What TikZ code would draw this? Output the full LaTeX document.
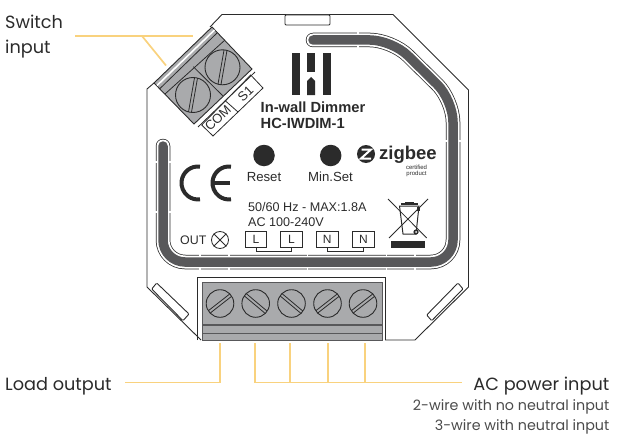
\documentclass[tikz,border=0pt]{standalone}
\usepackage{fontspec}
\setmainfont{Liberation Sans}
\newfontfamily\lablefont{Poppins}
\definecolor{wire}{HTML}{F9D27E}
\definecolor{ink}{HTML}{2B2B2B}
\definecolor{blockgrey}{HTML}{A9AAAC}
\definecolor{chan}{HTML}{58585A}
\newcommand{\fs}[1]{\fontsize{#1}{#1}\selectfont}
\tikzset{
  x=1pt,y=-1pt,
  wireline/.style={draw=wire,line width=1.7pt},
  bodyline/.style={draw=ink,line width=0.9pt,line join=miter},
  thin line/.style={draw=ink,line width=0.8pt},
  screwline/.style={draw=ink,line width=0.9pt},
  lab/.style={inner sep=0pt,text=ink},
  box/.style={draw=ink,line width=0.8pt,minimum width=21.5pt,minimum height=16pt,inner sep=0pt,text=ink,font=\fs{12}},
  dot/.style={circle,fill=ink,minimum size=21.5pt,inner sep=0pt},
  notch/.style={draw=white,line width=1.4pt}
}
\begin{document}
\begin{tikzpicture}
\useasboundingbox (0,0) rectangle (621,444);
% body outline
\draw[bodyline] (210,27) -- (222,14.5) -- (393,14.5) -- (468.5,90) -- (468.5,287) -- (415,340) -- (385,340);
\draw[bodyline] (154,83) -- (147,89) -- (147,287) -- (201,340);
% channel
\draw[draw=ink,line width=14.5pt,line cap=round,rounded corners=22pt] (313,40) -- (392,40) -- (453,100) -- (453,262) -- (163,262) -- (163,146);
\draw[draw=white,line width=13pt,line cap=round,rounded corners=22pt] (313,40) -- (392,40) -- (453,100) -- (453,262) -- (163,262) -- (163,146);
\draw[draw=chan,line width=9.5pt,line cap=round,rounded corners=22pt] (313,40) -- (392,40) -- (453,100) -- (453,262) -- (163,262) -- (163,146);
\foreach \nx in {200,229,307.5,386.5,415}{
  \draw[notch] (\nx,253.5) -- (\nx,256);
  \draw[notch] (\nx,268) -- (\nx,270.5);
}
\foreach \ny in {162,212}{
  \draw[notch] (154.5,\ny) -- (157,\ny);
  \draw[notch] (169,\ny) -- (171.5,\ny);
}
\draw[notch] (358,32) -- (358,34.5);
\draw[notch] (358,46) -- (358,48.5);
\draw[notch] (445,141) -- (447.5,141);
\draw[notch] (458.5,141) -- (461,141);
% slots
\draw[bodyline,rounded corners=1pt,fill=white] (285,15) -- (330,15) -- (330,25) -- (285,25) -- cycle;
\draw[bodyline,rounded corners=1pt,fill=white] (156.7,283) -- (151.7,289) -- (183,320.7) -- (189,314) -- cycle;
\draw[bodyline,rounded corners=1pt,fill=white] (458,283) -- (463,289) -- (431.7,320.7) -- (426.7,315) -- cycle;
% top terminal
\fill[blockgrey] (212,27) -- (154,83) -- (194,124) -- (252,69) -- cycle;
\draw[bodyline] (212,27) -- (154,83) -- (194,124) -- (252,69) -- cycle;
\draw[draw=white,line width=1.6pt] (214.5,30) -- (157,85.5);
\draw[thin line] (217,33) -- (160,88.5);
\draw[thin line] (225,40) -- (165,94);
\draw[thin line] (193.3,66.7) -- (222.7,95.7);
\foreach \cx/\cy in {193/95,222.5/67.3}{
  \draw[screwline] (\cx,\cy) circle (17.5pt);
  \begin{scope}[shift={(\cx,\cy)},rotate=80]
    \draw[thin line] (-17.3,-1.5) -- (17.3,-1.5);
    \draw[thin line] (-17.3,1.5) -- (17.3,1.5);
  \end{scope}
}
\draw[draw=ink,line width=0.8pt] (198,127) -- (255,72);
% labels of top terminal
\draw[thin line] (201.7,125) -- (213,136) -- (263,88) -- (250.7,75) -- cycle;
\draw[thin line] (225,100.5) -- (238,112);
\node[lab,rotate=44,font=\fs{13}] (com) at (218,118) {COM};
\node[lab,rotate=44,font=\fs{13}] (s1) at (245.5,94) {S1};
% logo
\fill[ink] (291.7,53) rectangle (299.5,95);
\fill[ink] (307,53) rectangle (315,72);
\fill[ink] (307,95) -- (307,81) -- (311,77) -- (315,81) -- (315,95) -- cycle;
\fill[ink] (323,53) rectangle (331,95);
\node[lab,anchor=base west,font=\bfseries\fs{14.7}] (title1) at (260.5,112) {In-wall Dimmer};
\node[lab,anchor=base west,font=\bfseries\fs{14.7}] (title2) at (260.5,128) {HC-IWDIM-1};
% buttons
\node[dot] (reset) at (264,155.5) {};
\node[dot] (minset) at (330.7,155.5) {};
\node[lab,anchor=base,font=\fs{13.2}] (resetl) at (264,181.5) {Reset};
\node[lab,anchor=base,font=\fs{13.2}] (minsetl) at (330.5,181.5) {Min.Set};
% zigbee
\fill[ink] (366,154) circle (9pt);
\draw[draw=white,line width=2pt,line join=miter] (361.5,149.5) -- (371,149.5) -- (361,158.5) -- (371,158.5);
\node[lab,anchor=base west,font=\bfseries\fs{18.5}] (zig) at (379,159.5) {zigbee};
\node[lab,anchor=base,font=\fs{6}] (cert) at (416.5,169) {certified};
\node[lab,anchor=base,font=\fs{6}] (prod) at (416.5,175.5) {product};
% CE
\draw[draw=ink,line width=4pt] (200,166.6) arc[start angle=83,end angle=277,radius=16.5pt];
\draw[draw=ink,line width=4pt] (231,166.6) arc[start angle=83,end angle=277,radius=16.5pt];
\draw[draw=ink,line width=3.4pt] (214,183) -- (229.5,183);
% ratings
\node[lab,anchor=base west,font=\fs{12.6}] (rate1) at (248,211.5) {50/60 Hz - MAX:1.8A};
\node[lab,anchor=base west,font=\fs{12.6}] (rate2) at (248,226) {AC 100-240V};
\node[lab,anchor=base west,font=\fs{12.4}] (out) at (180,244.5) {OUT};
\node[draw=ink,line width=0.8pt,circle,minimum size=17pt,inner sep=0pt] (lamp) at (220,240) {};
\draw[thin line] (lamp.45) -- (lamp.225);
\draw[thin line] (lamp.135) -- (lamp.315);
\node[box] (l1) at (256,239.7) {L};
\node[box] (l2) at (291.5,239.7) {L};
\node[box] (n1) at (327.3,239.7) {N};
\node[box] (n2) at (363.5,239.7) {N};
\draw[thin line] (l1.south) -- ++(0,3) -| (l2.south);
\draw[thin line] (n1.south) -- ++(0,3) -| (n2.south);
% WEEE
\draw[thin line] (388,199) -- (426.7,238);
\draw[thin line] (428,199) -- (389,238);
\draw[draw=ink,line width=1pt] (399.5,206) -- (419,206) -- (416,234) -- (403,234) -- cycle;
\draw[draw=ink,line width=1.4pt] (401,204) -- (418,204);
\draw[draw=ink,line width=1pt] (405,202) -- (414,202);
\fill[ink] (416,232) circle (2.6pt);
\fill[white] (416,232) circle (1pt);
\fill[ink] (417,207) rectangle (420,211);
\fill[ink] (391,241) rectangle (425,247.7);
% bottom terminal
\draw[bodyline] (197,340) -- (197,277) -- (385,277) -- (385,340);
\fill[blockgrey] (202,282) rectangle (382,340);
\draw[draw=chan,line width=1pt] (202,282) -- (382,282) -- (382,340) -- (202,340) -- cycle;
\draw[draw=chan,line width=1.3pt] (202,325) -- (382,325);
\draw[draw=chan,line width=0.7pt] (202,333) -- (382,333);
\foreach \cx/\a in {220/38,255.7/-40,291.5/-40,327.5/38,363/38}{
  \draw[screwline] (\cx,303.5) circle (13.8pt);
  \begin{scope}[shift={(\cx,303.5)},rotate=\a]
    \draw[thin line] (-13.6,-1.5) -- (13.6,-1.5);
    \draw[thin line] (-13.6,1.5) -- (13.6,1.5);
  \end{scope}
}
% wires and labels
\node[lab,anchor=base west,font=\lablefont\fs{17.7}] (sw1) at (5,29) {Switch};
\node[lab,anchor=base west,font=\lablefont\fs{17.7}] (sw2) at (5,54) {input};
\node[lab,anchor=base west,font=\lablefont\fs{17.7}] (load) at (5,390) {Load output};
\node[lab,anchor=base east,font=\lablefont\fs{17.7}] (ac) at (609.5,390) {AC power input};
\node[lab,anchor=base east,font=\lablefont\fs{14.3},text=ink!85] (w2) at (609.5,410) {2-wire with no neutral input};
\node[lab,anchor=base east,font=\lablefont\fs{14.3},text=ink!85] (w3) at (609.5,430) {3-wire with neutral input};
\coordinate (swa) at (75,36);
\coordinate (swb) at (193,36);
\coordinate (swj) at (142,36);
\coordinate (swc) at (166,65.5);
\draw[wireline] (swa) -- (swb);
\draw[wireline] (swj) -- (swc);
\coordinate (loada) at (125,382.5);
\coordinate (loadb) at (220,343);
\draw[wireline] (loada) -| (loadb);
\coordinate (aca) at (462,382.5);
\coordinate (acb) at (255,343);
\draw[wireline] (aca) -| (acb);
\foreach \cx in {290,328,365}{\draw[wireline] (\cx,382.5) -- (\cx,343);}
\end{tikzpicture}
\end{document}
